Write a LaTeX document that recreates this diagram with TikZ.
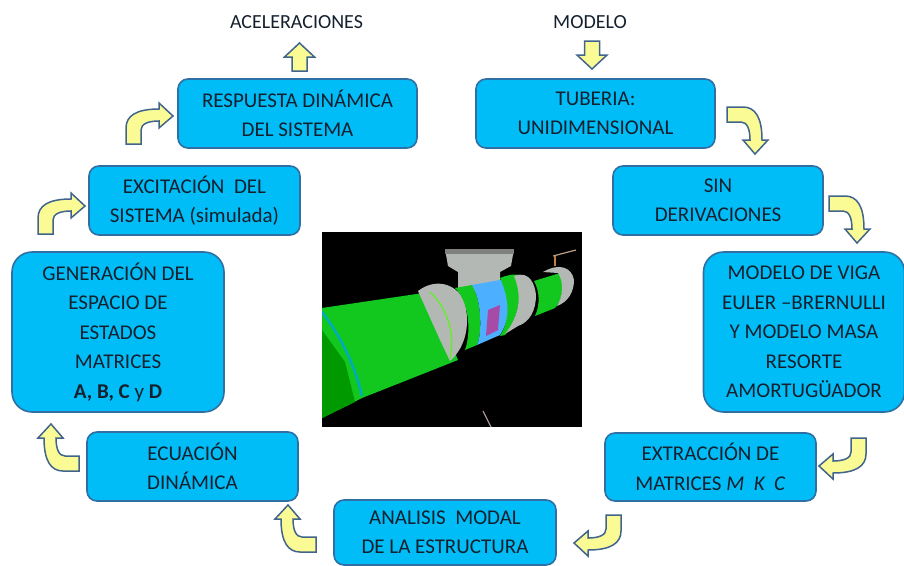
\documentclass[tikz,border=0pt]{standalone}
\usepackage{fontspec}
\setmainfont{Carlito}
\definecolor{cajaazul}{HTML}{00BDF7}
\definecolor{bordeazul}{HTML}{2F6FA3}
\definecolor{flechaamarilla}{HTML}{FBFB96}
\definecolor{bordeflecha}{HTML}{41648C}
\definecolor{textoazul}{HTML}{14202E}
\definecolor{tubverde}{HTML}{12C81E}
\definecolor{tubgris}{HTML}{B4B8B4}
\tikzset{
	caja/.style={draw=bordeazul, fill=cajaazul, line width=1.6pt, rounded corners=10pt, align=center, inner sep=0pt, text=textoazul, font=\fontsize{21}{29.5}\selectfont},
	titulo/.style={text=textoazul, font=\fontsize{20}{24}\selectfont},
	flecha/.style={draw=bordeflecha, fill=flechaamarilla, line width=1.5pt, line join=miter},
	vuelta/.pic={
		\draw[flecha] (0,0) -- (16,0) .. controls (28,0) and (35,10) .. (35,33) -- (41,33) -- (28,47) -- (16,33) -- (23,33) .. controls (23,22) and (20,15) .. (14,15) -- (0,15) -- cycle;
	},
	recta/.pic={
		\draw[flecha] (-7.5,0) -- (7.5,0) -- (7.5,14) -- (15,14) -- (0,28) -- (-15,14) -- (-7.5,14) -- cycle;
	}
}
\begin{document}
\begin{tikzpicture}[x=1pt, y=-1pt]
\useasboundingbox (0,0) rectangle (904,565);

\node[titulo] (aceleraciones) at (296.5,22) {ACELERACIONES};
\node[titulo] (modelo) at (590,22) {MODELO};

\node[caja, minimum width=239pt, minimum height=69pt] (respuesta) at (297.5,113.5) {RESPUESTA DINÁMICA\\DEL SISTEMA};
\node[caja, minimum width=239pt, minimum height=69pt] (tuberia) at (595.5,113.5) {TUBERIA:\\UNIDIMENSIONAL};
\node[caja, minimum width=211pt, minimum height=69pt] (excitacion) at (194.5,200.5) {EXCITACIÓN\ \ DEL\\SISTEMA (simulada)};
\node[caja, minimum width=210pt, minimum height=69pt] (sin) at (718,200.5) {SIN\\DERIVACIONES};
\node[caja, minimum width=212pt, minimum height=160pt, rounded corners=20pt] (generacion) at (118,332) {GENERACIÓN DEL\\ESPACIO DE\\ESTADOS\\MATRICES\\\textbf{A, B, C} y \textbf{D}};
\node[caja, minimum width=201pt, minimum height=160pt, rounded corners=20pt] (viga) at (804,332) {MODELO DE VIGA\\EULER –BRERNULLI\\Y MODELO MASA\\RESORTE\\AMORTUGÜADOR};
\node[caja, minimum width=211pt, minimum height=69pt] (ecuacion) at (192.5,466.5) {ECUACIÓN\\DINÁMICA};
\node[caja, minimum width=211pt, minimum height=68pt] (extraccion) at (710.5,467) {EXTRACCIÓN DE\\MATRICES \textit{M\ \ K\ \ C}};
\node[caja, minimum width=222pt, minimum height=65pt] (analisis) at (445,532.5) {ANALISIS\ \ MODAL\\DE LA ESTRUCTURA};

\pic[rotate=180] (f1) at (299.5,71) {recta};
\pic (f2) at (592,41) {recta};
\pic (f3) at (727,107) {vuelta};
\pic (f4) at (829,196) {vuelta};
\pic[rotate=-90] (f5) at (866,438) {vuelta};
\pic[rotate=-90] (f6) at (621,515) {vuelta};
\pic[rotate=180] (f7) at (316,552) {vuelta};
\pic[rotate=180] (f8) at (79,471) {vuelta};
\pic[rotate=90] (f9) at (38,234) {vuelta};
\pic[rotate=90] (f10) at (126,144) {vuelta};

% tuberia
\fill[black] (322,232) rectangle (582,427);
\begin{scope}
\clip (322,232) rectangle (582,427);
\fill[tubgris] (445,249) -- (514,249) -- (511,266) -- (500,272) -- (500,292) -- (458,292) -- (458,272) -- (448,266) -- cycle;
\fill[tubgris!70!black] (445,249) rectangle (514,254);
\fill[tubverde] (322,308) -- (430,292) -- (458,360) -- (362,398) -- (322,418) -- cycle;
\fill[tubgris] (418,291) .. controls (435,278) and (455,283) .. (464,300) .. controls (470,320) and (468,345) .. (450,361) -- (440,340) -- cycle;
\fill[tubverde] (455,288) -- (472,285) .. controls (482,300) and (482,335) .. (477,345) -- (465,350) .. controls (472,330) and (468,300) .. cycle;
\fill[blue!45!cyan!70!white] (472,285) -- (500,280) -- (512,278) .. controls (510,300) and (510,320) .. (500,335) -- (477,345) .. controls (482,335) and (482,300) .. cycle;
\fill[violet!70!white] (488,310) -- (500,305) -- (498,330) -- (486,336) -- cycle;
\fill[tubverde] (500,278) .. controls (515,272) and (522,275) .. (518,277) .. controls (522,295) and (518,320) .. (505,335) -- (500,336) .. controls (510,320) and (510,300) .. (500,278) -- cycle;
\fill[tubgris] (514,276) .. controls (530,270) and (535,285) .. (536,295) .. controls (536,310) and (530,322) .. (518,326) -- (505,334) .. controls (520,315) and (522,295) .. cycle;
\fill[tubverde] (534,281) -- (560,273) .. controls (564,285) and (563,300) .. (555,308) -- (535,316) .. controls (540,305) and (540,292) .. cycle;
\fill[tubgris] (543,272) .. controls (560,262) and (572,268) .. (574,280) .. controls (574,292) and (568,302) .. (557,306) .. controls (563,296) and (564,282) .. (558,273) -- cycle;
\draw[tubgris!60!brown, line width=1.2pt] (553,256) -- (576,250);
\draw[brown, line width=1.5pt] (555,256) -- (555,266);
\draw[cyan!70!green, line width=2.5pt] (322,312) .. controls (340,335) and (355,365) .. (362,396);
\draw[green!70!yellow, line width=1pt] (430,292) .. controls (450,310) and (455,340) .. (450,358);
\fill[green!60!black] (322,330) -- (345,362) -- (355,402) -- (322,418) -- cycle;
\draw[gray!70!pink, line width=1.2pt] (483,411) -- (491,427);
\end{scope}
\end{tikzpicture}
\end{document}
